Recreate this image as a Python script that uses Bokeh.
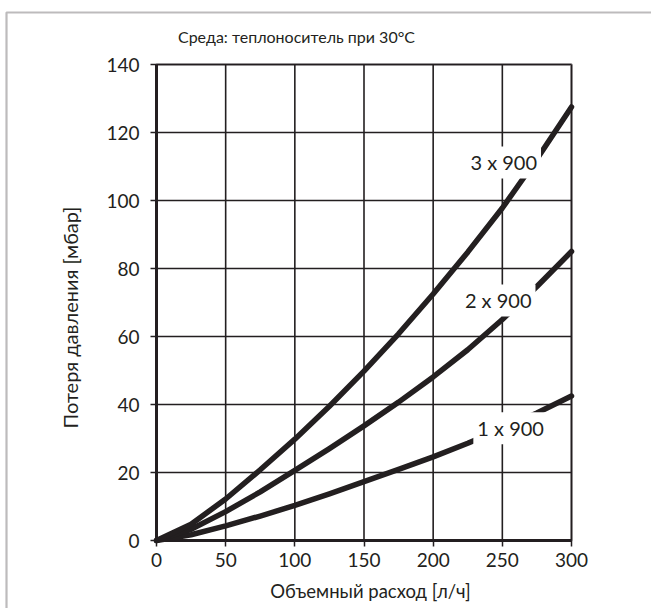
from bokeh.plotting import figure
from bokeh.models import Label, BoxAnnotation, Range1d, FixedTicker
from bokeh.embed import file_html
from bokeh.resources import INLINE

# ---- data ----
flow = [0, 25, 50, 75, 100, 125, 150, 175, 200, 225, 250, 275, 300]
loss_1x900 = [0, 1.7, 4.3, 7.2, 10.3, 13.7, 17.3, 20.9, 24.6, 28.6, 32.9, 37.5, 42.5]
loss_2x900 = [0, 3.3, 8.5, 14.3, 20.6, 27.0, 33.7, 40.7, 48.1, 56.1, 65.0, 74.7, 85.0]
loss_3x900 = [0, 4.8, 12.2, 20.8, 29.8, 39.5, 49.8, 60.8, 72.5, 84.8, 97.8, 112.2, 127.5]

x_ticks = [0, 50, 100, 150, 200, 250, 300]
y_ticks = [0, 20, 40, 60, 80, 100, 120, 140]
x_min, x_max = 0, 300
y_min, y_max = 0, 140

curve_names = ["1 x 900", "2 x 900", "3 x 900"]
curve_label_x = [256, 247, 251]
curve_label_y = [33.0, 70.6, 111.2]

title_text = "Среда: теплоноситель при 30°C"
x_title = "Объемный расход [л/ч]"
y_title = "Потеря давления [мбар]"

INK = "#231f20"
FONT = "Lato"

# Frame covers the whole canvas; the chart box (0..300 x 0..140) sits inside it.
W, H = 651, 608
BOX_L, BOX_R, BOX_T, BOX_B = 156, 571, 64, 540
sx = (BOX_R - BOX_L) / (x_max - x_min)
sy = (BOX_B - BOX_T) / (y_max - y_min)
def dx(px):
    return x_min + (px - BOX_L) / sx
def dy(py):
    return y_min + (BOX_B - py) / sy

p = figure(width=W, height=H, output_backend="svg", toolbar_location=None,
           x_range=Range1d(dx(0), dx(W)), y_range=Range1d(dy(H), dy(0)),
           min_border=0, min_border_left=0, min_border_right=0,
           min_border_top=0, min_border_bottom=0)
p.background_fill_color = "white"
p.border_fill_color = "white"
p.outline_line_color = None
p.xgrid.grid_line_color = None
p.ygrid.grid_line_color = None

for ax, ticks, bnds in ((p.xaxis, x_ticks, (x_min, x_max)), (p.yaxis, y_ticks, (y_min, y_max))):
    ax.ticker = FixedTicker(ticks=ticks)
    ax.fixed_location = 0
    ax.bounds = bnds
    ax.axis_line_color = INK
    ax.axis_line_width = 3
    ax.major_tick_line_color = INK
    ax.major_tick_line_width = 1.5
    ax.major_tick_out = 6
    ax.major_tick_in = 0
    ax.minor_tick_line_color = None
    ax.major_label_text_font = FONT
    ax.major_label_text_font_size = "19px"
    ax.major_label_text_color = INK
p.xaxis.major_label_standoff = 6
p.yaxis.major_label_standoff = 11

# grid lines at the tick positions, inside the box
p.segment(x0=x_ticks, x1=x_ticks, y0=[y_min] * len(x_ticks), y1=[y_max] * len(x_ticks),
          line_color=INK, line_width=1.6)
p.segment(x0=[x_min] * len(y_ticks), x1=[x_max] * len(y_ticks), y0=y_ticks, y1=y_ticks,
          line_color=INK, line_width=1.6)

for ys in (loss_1x900, loss_2x900, loss_3x900):
    p.line(flow, ys, line_color=INK, line_width=5.5, line_cap="round", line_join="round")

for name, lx, ly in zip(curve_names, curve_label_x, curve_label_y):
    p.add_layout(Label(x=lx, y=ly, text=name, text_align="center", text_baseline="middle",
                       text_font=FONT, text_font_size="20px", text_color=INK,
                       background_fill_color="white", padding=4))

# chart box outline
p.add_layout(BoxAnnotation(left=x_min, right=x_max, bottom=y_min, top=y_max,
                           fill_alpha=0, line_color=INK, line_width=3, level="overlay",
                           editable=False))
# outer frame (open at right and bottom)
p.add_layout(BoxAnnotation(left=dx(6), right=dx(W + 50), top=dy(12), bottom=dy(H + 50),
                           fill_alpha=0, line_color=INK, line_width=2.2, level="overlay",
                           editable=False))

def text_at(px, py, text, size, angle=0):
    p.add_layout(Label(x=dx(px), y=dy(py), text=text,
                       text_align="center", text_baseline="middle", angle=angle,
                       angle_units="deg", text_font=FONT, text_font_size=size,
                       text_color=INK))

text_at(296, 36, title_text, "16px")
text_at(370, 590, x_title, "18.5px")
text_at(69, 317, y_title, "20px", angle=90)

open("out.html", "w").write(file_html(p, INLINE))
